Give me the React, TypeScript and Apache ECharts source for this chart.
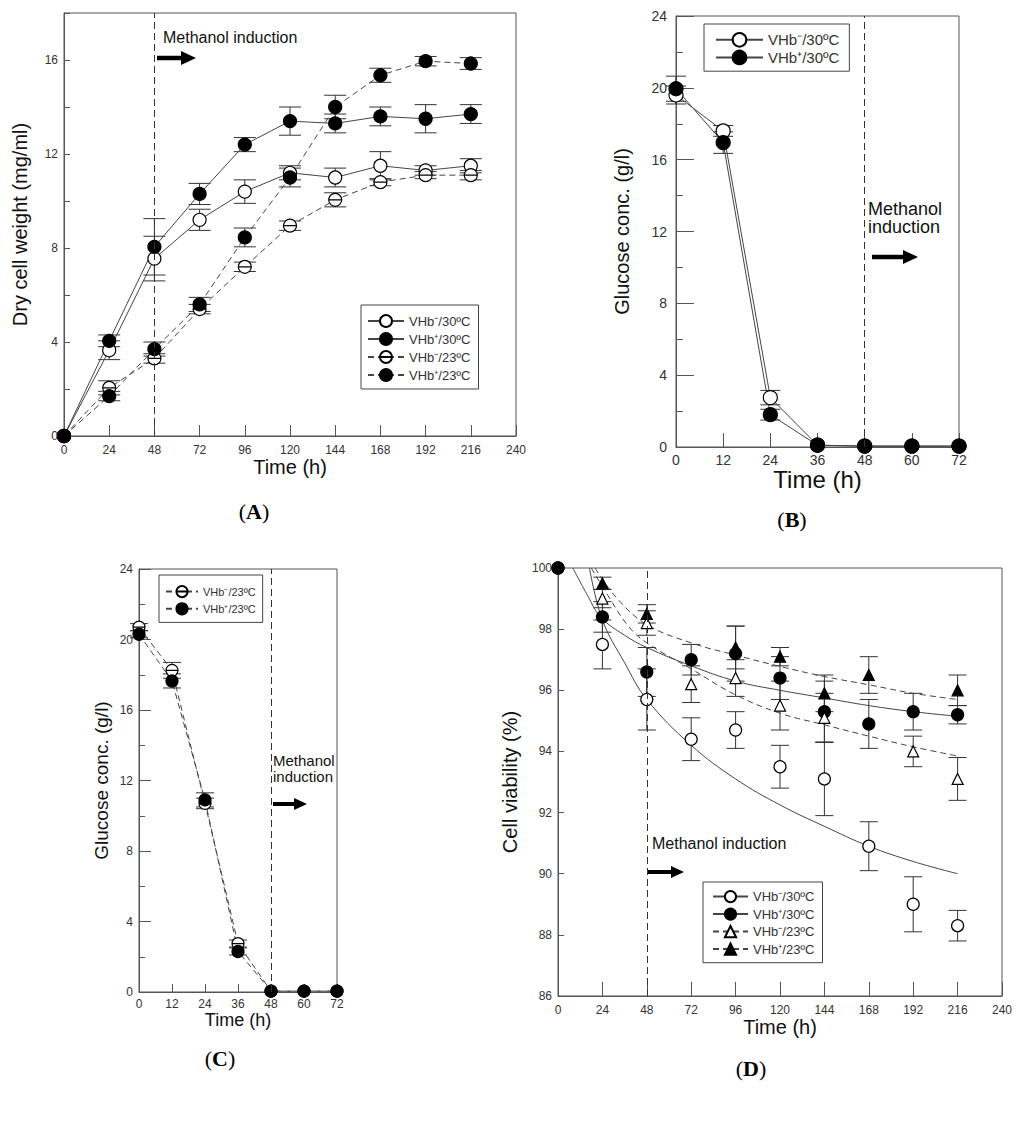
import React, { useEffect, useRef } from "react";
import * as echarts from "echarts";

const FONT = "'Liberation Sans', Arial, sans-serif";
const SERIF = "'Liberation Serif', 'Times New Roman', serif";

// ---------- Panel A: dry cell weight ----------
const timeA = [0, 24, 48, 72, 96, 120, 144, 168, 192, 216];
const dcwNeg30 = [0, 3.65, 7.55, 9.2, 10.4, 11.2, 11.0, 11.5, 11.3, 11.5];
const dcwNeg30Err = [0, 0.4, 0.95, 0.45, 0.5, 0.3, 0.4, 0.6, 0.2, 0.3];
const dcwPos30 = [0, 4.05, 8.05, 10.3, 12.4, 13.4, 13.3, 13.6, 13.5, 13.7];
const dcwPos30Err = [0, 0.25, 1.2, 0.45, 0.3, 0.6, 0.4, 0.4, 0.6, 0.4];
const dcwNeg23 = [0, 2.05, 3.3, 5.4, 7.2, 8.95, 10.05, 10.8, 11.1, 11.1];
const dcwNeg23Err = [0, 0.3, 0.2, 0.2, 0.2, 0.2, 0.3, 0.15, 0.15, 0.2];
const dcwPos23 = [0, 1.7, 3.7, 5.6, 8.45, 11.0, 14.0, 15.35, 15.95, 15.85];
const dcwPos23Err = [0, 0.2, 0.3, 0.3, 0.4, 0.4, 0.5, 0.3, 0.2, 0.25];

// ---------- Panel B: glucose, 30 C ----------
const timeB = [0, 12, 24, 36, 48, 60, 72];
const gluNeg30 = [19.6, 17.6, 2.75, 0.1, 0.05, 0.05, 0.05];
const gluNeg30Err = [0.5, 0.3, 0.4, 0, 0, 0, 0];
const gluPos30 = [19.95, 16.95, 1.8, 0.1, 0.05, 0.05, 0.05];
const gluPos30Err = [0.7, 0.6, 0.3, 0, 0, 0, 0];

// ---------- Panel C: glucose, 23 C ----------
const timeC = [0, 12, 24, 36, 48, 60, 72];
const gluNeg23 = [20.7, 18.25, 10.7, 2.75, 0.05, 0.05, 0.05];
const gluNeg23Err = [0.2, 0.45, 0.3, 0.2, 0, 0, 0];
const gluPos23 = [20.3, 17.65, 10.9, 2.3, 0.05, 0.05, 0.05];
const gluPos23Err = [0.2, 0.4, 0.4, 0.2, 0, 0, 0];

// ---------- Panel D: cell viability (null = hidden behind another marker) ----------
const timeD = [0, 24, 48, 72, 96, 120, 144, 168, 192, 216];
const viaNeg30 = [100, 97.5, 95.7, 94.4, 94.7, 93.5, 93.1, 90.9, 89.0, 88.3];
const viaNeg30Err = [0, 0.8, 1.0, 0.7, 0.6, 0.7, 1.2, 0.8, 0.9, 0.5];
const viaPos30 = [100, 98.4, 96.6, 97.0, 97.2, 96.4, 95.3, 94.9, 95.3, 95.2];
const viaPos30Err = [0, 0.5, 0.8, 0.5, 0.9, 0.7, 1.0, 0.8, 0.6, 0.3];
const viaNeg23 = [null, 99.0, 98.2, 96.2, 96.4, 95.5, 95.1, null, 94.0, 93.1];
const viaNeg23Err = [0, 0.3, 0.4, 0.6, 0.6, 0.8, 0.8, 0, 0.5, 0.7];
const viaPos23 = [null, 99.5, 98.5, null, 97.4, 97.1, 95.9, 96.5, null, 96.0];
const viaPos23Err = [0, 0.2, 0.3, 0, 0.7, 0.3, 0.6, 0.6, 0, 0.5];

// fitted curves in D
const fitNeg30T = [17, 24, 36, 48, 72, 96, 120, 144, 168, 192, 216];
const fitNeg30V = [100, 98.3, 96.9, 95.7, 94.2, 93.1, 92.25, 91.55, 90.9, 90.4, 90.0];
const fitPos30T = [8, 16, 23, 36, 48, 72, 96, 120, 144, 168, 192, 216];
const fitPos30V = [100, 99.1, 98.4, 97.8, 97.4, 96.8, 96.3, 96.0, 95.75, 95.5, 95.3, 95.15];
const fitNeg23T = [18, 27, 38, 48, 72, 96, 120, 144, 168, 192, 216];
const fitNeg23V = [100, 99.1, 98.1, 97.55, 96.7, 95.85, 95.25, 94.87, 94.5, 94.15, 93.85];
const fitPos23T = [20, 32, 48, 72, 96, 120, 144, 168, 192, 216];
const fitPos23V = [100, 99.0, 98.15, 97.55, 97.15, 96.78, 96.45, 96.18, 95.9, 95.7];

const labNeg30 = "VHb⁻/30ºC";
const labPos30 = "VHb⁺/30ºC";
const labNeg23 = "VHb⁻/23ºC";
const labPos23 = "VHb⁺/23ºC";
const induction = 48;

const CIRCLE_LINE = "path://M10 0A10 10 0 1 1 -10 0A10 10 0 1 1 10 0ZM-10 0L10 0";

const nm = (lab: string, p: string) => `${lab} (${p})`;
const stripName = (n: string) => n.replace(/ \([A-D]\)$/, "");

function errSeries(grid: number, xs: number[], ys: (number | null)[], es: number[], cap: number) {
  const data: number[][] = [];
  xs.forEach((x, i) => {
    const y = ys[i];
    if (y == null || !es[i]) return;
    data.push([x, y - es[i], y + es[i]]);
  });
  return {
    type: "custom",
    xAxisIndex: grid,
    yAxisIndex: grid,
    z: 2,
    silent: true,
    clip: false,
    encode: { x: 0, y: [1, 2] },
    data,
    renderItem: (params: any, api: any) => {
      const x = api.value(0);
      const a = api.coord([x, api.value(1)]);
      const b = api.coord([x, api.value(2)]);
      const st = { stroke: "#333", lineWidth: 1 };
      return {
        type: "group",
        children: [
          { type: "line", shape: { x1: a[0], y1: a[1], x2: b[0], y2: b[1] }, style: st },
          { type: "line", shape: { x1: a[0] - cap, y1: a[1], x2: a[0] + cap, y2: a[1] }, style: st },
          { type: "line", shape: { x1: b[0] - cap, y1: b[1], x2: b[0] + cap, y2: b[1] }, style: st },
        ],
      };
    },
  };
}

function ptSeries(
  name: string,
  grid: number,
  xs: number[],
  ys: (number | null)[],
  symbol: string,
  size: number,
  filled: boolean,
  dashed: boolean,
  showLine: boolean,
  z = 3
) {
  const data: number[][] = [];
  xs.forEach((x, i) => {
    if (ys[i] != null) data.push([x, ys[i] as number]);
  });
  return {
    type: "line",
    name,
    xAxisIndex: grid,
    yAxisIndex: grid,
    data,
    symbol,
    symbolSize: size,
    showSymbol: true,
    showAllSymbol: true,
    clip: false,
    z,
    silent: true,
    itemStyle: { color: filled ? "#000" : "#fff", borderColor: "#000", borderWidth: 1.2 },
    lineStyle: { color: "#444", width: 1, type: dashed ? [6, 4] : "solid", opacity: showLine ? 1 : 0 },
    emphasis: { disabled: true },
  };
}

function fitSeries(grid: number, xs: number[], ys: number[], dashed: boolean) {
  return {
    type: "line",
    xAxisIndex: grid,
    yAxisIndex: grid,
    data: xs.map((x, i) => [x, ys[i]]),
    smooth: 0.4,
    symbol: "none",
    showSymbol: false,
    silent: true,
    z: 2,
    lineStyle: { color: "#444", width: 1, type: dashed ? [6, 4] : "solid" },
    emphasis: { disabled: true },
  };
}

const vline = {
  silent: true,
  symbol: ["none", "none"],
  label: { show: false },
  lineStyle: { type: [7, 4], color: "#333", width: 1 },
  data: [{ xAxis: induction }],
};

function xAx(grid: number, max: number, interval: number, o: any) {
  return {
    type: "value",
    gridIndex: grid,
    min: 0,
    max,
    interval,
    axisLine: { show: true, onZero: false, lineStyle: { color: "#555", width: 1 } },
    axisTick: { show: true, inside: true, length: o.tick, lineStyle: { color: "#555" } },
    axisLabel: { show: true, fontSize: o.fs, color: "#333", margin: o.margin, fontFamily: FONT, showMinLabel: true, showMaxLabel: true, hideOverlap: false },
    splitLine: { show: false },
    name: "Time (h)",
    nameLocation: "middle",
    nameGap: o.gap,
    nameTextStyle: { fontSize: o.nfs, color: "#111", fontFamily: FONT },
  };
}

function yAx(grid: number, min: number, max: number, interval: number, name: string, o: any) {
  return {
    type: "value",
    gridIndex: grid,
    min,
    max,
    interval,
    axisLine: { show: true, onZero: false, lineStyle: { color: "#555", width: 1 } },
    axisTick: { show: true, inside: true, length: o.tick, lineStyle: { color: "#555" } },
    minorTick: { show: !!o.minor, splitNumber: 2, length: o.minor || 4, lineStyle: { color: "#555" } },
    minorSplitLine: { show: false },
    axisLabel: { show: true, fontSize: o.fs, color: "#333", margin: o.margin, fontFamily: FONT, showMaxLabel: o.showMax, hideOverlap: false },
    splitLine: { show: false },
    name,
    nameLocation: "middle",
    nameGap: o.gap,
    nameTextStyle: { fontSize: o.nfs, color: "#111", fontFamily: FONT },
  };
}

function legend(names: string[], o: any, extra?: any) {
  return {
    orient: "vertical",
    left: o.left,
    top: o.top,
    padding: o.padding,
    itemWidth: o.iw,
    itemHeight: o.ih,
    itemGap: o.gap,
    borderColor: "#444",
    borderWidth: 1,
    borderRadius: 0,
    selectedMode: false,
    formatter: stripName,
    textStyle: { fontSize: o.fs, color: "#333", fontFamily: FONT },
    data: names.map((n) => (extra ? { name: n, ...extra } : { name: n })),
  };
}

function arrow(x1: number, x2: number, y: number, head = 15, hh = 7, th = 4.5) {
  return [
    { type: "rect", shape: { x: x1, y: y - th / 2, width: x2 - x1 - head + 1, height: th }, style: { fill: "#000" } },
    { type: "polygon", shape: { points: [[x2 - head, y - hh], [x2, y], [x2 - head, y + hh]] }, style: { fill: "#000" } },
  ];
}

function panelLabel(letter: string, x: number, y: number) {
  return {
    type: "text",
    x,
    y,
    style: {
      text: `{p|(}{b|${letter}}{p|)}`,
      align: "center",
      verticalAlign: "middle",
      rich: {
        p: { fontFamily: SERIF, fontSize: 22, fill: "#000" },
        b: { fontFamily: SERIF, fontSize: 22, fontWeight: "bold", fill: "#000" },
      },
    },
  };
}

function note(text: string, x: number, y: number, fs: number) {
  return {
    type: "text",
    x,
    y,
    style: { text, fontFamily: FONT, fontSize: fs, fill: "#111", align: "left", verticalAlign: "middle" },
  };
}

function buildOption() {
  const gridBase = { show: true, borderColor: "#555", borderWidth: 1, backgroundColor: "transparent", containLabel: false, outerBoundsMode: "none" };
  const grids = [
    { ...gridBase, left: 64, top: 13, width: 452, height: 423 },
    { ...gridBase, left: 676, top: 16, width: 283, height: 431 },
    { ...gridBase, left: 139, top: 569, width: 198, height: 423 },
    { ...gridBase, left: 558, top: 568, width: 444, height: 428 },
  ];

  const xAxes = [
    xAx(0, 240, 24, { tick: 11, fs: 12, margin: 8, gap: 20, nfs: 20 }),
    xAx(1, 72, 12, { tick: 14, fs: 14, margin: 6, gap: 20, nfs: 24 }),
    xAx(2, 72, 12, { tick: 8, fs: 12, margin: 6, gap: 19, nfs: 18 }),
    xAx(3, 240, 24, { tick: 14, fs: 12, margin: 8, gap: 21, nfs: 20 }),
  ];
  const yAxes = [
    yAx(0, 0, 18, 4, "Dry cell weight (mg/ml)", { tick: 6, minor: 6, fs: 12, margin: 6, gap: 34, nfs: 20, showMax: false }),
    yAx(1, 0, 24, 4, "Glucose conc. (g/l)", { tick: 18, minor: 7, fs: 14, margin: 9, gap: 44, nfs: 20, showMax: true }),
    yAx(2, 0, 24, 4, "Glucose conc. (g/l)", { tick: 12, minor: 6, fs: 12, margin: 6, gap: 28, nfs: 19, showMax: true }),
    yAx(3, 86, 100, 2, "Cell viability (%)", { tick: 6, fs: 12, margin: 6, gap: 38, nfs: 20, showMax: true }),
  ];

  const sA = [
    { ...ptSeries(nm(labNeg30, "A"), 0, timeA, dcwNeg30, "circle", 13, false, false, true), markLine: vline },
    ptSeries(nm(labPos30, "A"), 0, timeA, dcwPos30, "circle", 13, true, false, true),
    ptSeries(nm(labNeg23, "A"), 0, timeA, dcwNeg23, CIRCLE_LINE, 13, false, true, true),
    ptSeries(nm(labPos23, "A"), 0, timeA, dcwPos23, "circle", 13, true, true, true),
    errSeries(0, timeA, dcwNeg30, dcwNeg30Err, 11),
    errSeries(0, timeA, dcwPos30, dcwPos30Err, 11),
    errSeries(0, timeA, dcwNeg23, dcwNeg23Err, 11),
    errSeries(0, timeA, dcwPos23, dcwPos23Err, 11),
  ];
  const sB = [
    { ...ptSeries(nm(labNeg30, "B"), 1, timeB, gluNeg30, "circle", 14, false, false, true), markLine: vline },
    ptSeries(nm(labPos30, "B"), 1, timeB, gluPos30, "circle", 14, true, false, true),
    errSeries(1, timeB, gluNeg30, gluNeg30Err, 10),
    errSeries(1, timeB, gluPos30, gluPos30Err, 10),
  ];
  const sC = [
    { ...ptSeries(nm(labNeg23, "C"), 2, timeC, gluNeg23, CIRCLE_LINE, 12, false, true, true), markLine: vline },
    ptSeries(nm(labPos23, "C"), 2, timeC, gluPos23, "circle", 12, true, true, true),
    errSeries(2, timeC, gluNeg23, gluNeg23Err, 9),
    errSeries(2, timeC, gluPos23, gluPos23Err, 9),
  ];
  const sD = [
    { ...ptSeries(nm(labNeg30, "D"), 3, timeD, viaNeg30, "circle", 12, false, false, false), markLine: vline },
    ptSeries(nm(labPos30, "D"), 3, timeD, viaPos30, "circle", 12, true, false, false),
    ptSeries(nm(labNeg23, "D"), 3, timeD, viaNeg23, "triangle", 11, false, true, false),
    ptSeries(nm(labPos23, "D"), 3, timeD, viaPos23, "triangle", 11, true, true, false),
    fitSeries(3, fitNeg30T, fitNeg30V, false),
    fitSeries(3, fitPos30T, fitPos30V, false),
    fitSeries(3, fitNeg23T, fitNeg23V, true),
    fitSeries(3, fitPos23T, fitPos23V, true),
    errSeries(3, timeD, viaNeg30, viaNeg30Err, 9),
    errSeries(3, timeD, viaPos30, viaPos30Err, 9),
    errSeries(3, timeD, viaNeg23, viaNeg23Err, 9),
    errSeries(3, timeD, viaPos23, viaPos23Err, 9),
  ];

  const legends = [
    legend([nm(labNeg30, "A"), nm(labPos30, "A"), nm(labNeg23, "A"), nm(labPos23, "A")], {
      left: 361, top: 305, padding: [9, 8, 7, 6], iw: 36, ih: 15, gap: 4, fs: 13,
    }),
    legend([nm(labNeg30, "B"), nm(labPos30, "B")], {
      left: 704, top: 24, padding: [8, 10, 6, 11], iw: 47, ih: 17, gap: 2, fs: 15,
    }),
    legend([nm(labNeg23, "C"), nm(labPos23, "C")], {
      left: 159, top: 575, padding: [10, 7, 7, 6], iw: 32, ih: 14, gap: 4, fs: 11,
    }),
    legend([nm(labNeg30, "D"), nm(labPos30, "D"), nm(labNeg23, "D"), nm(labPos23, "D")], {
      left: 703, top: 882, padding: [8, 8, 7, 9], iw: 35, ih: 14, gap: 4.3, fs: 13,
    }, { lineStyle: { opacity: 1 } }),
  ];

  const graphics: any[] = [
    note("Methanol induction", 163, 37, 16),
    ...arrow(157, 196, 58),
    note("Methanol", 868, 209, 18),
    note("induction", 868, 227, 18),
    ...arrow(872, 918, 257),
    note("Methanol", 273, 760, 15),
    note("induction", 273, 776, 15),
    ...arrow(273, 307, 804, 13, 6, 4),
    note("Methanol induction", 652, 843, 16),
    ...arrow(647, 684, 872, 13, 6, 4),
    panelLabel("A", 254, 511),
    panelLabel("B", 792, 519),
    panelLabel("C", 220, 1058),
    panelLabel("D", 751, 1068),
  ];

  return {
    animation: false,
    backgroundColor: "#fff",
    textStyle: { fontFamily: FONT },
    grid: grids,
    xAxis: xAxes,
    yAxis: yAxes,
    legend: legends,
    series: [...sA, ...sB, ...sC, ...sD],
    graphic: { elements: graphics },
  };
}

export default function App() {
  const ref = useRef<HTMLDivElement | null>(null);
  useEffect(() => {
    if (!ref.current) return;
    const chart = echarts.init(ref.current, null, { renderer: "svg" });
    chart.setOption(buildOption() as any);
    return () => chart.dispose();
  }, []);
  return (
    <div
      ref={ref}
      style={{ position: "absolute", left: 0, top: 0, width: 1024, height: 1122, background: "#fff" }}
    />
  );
}
